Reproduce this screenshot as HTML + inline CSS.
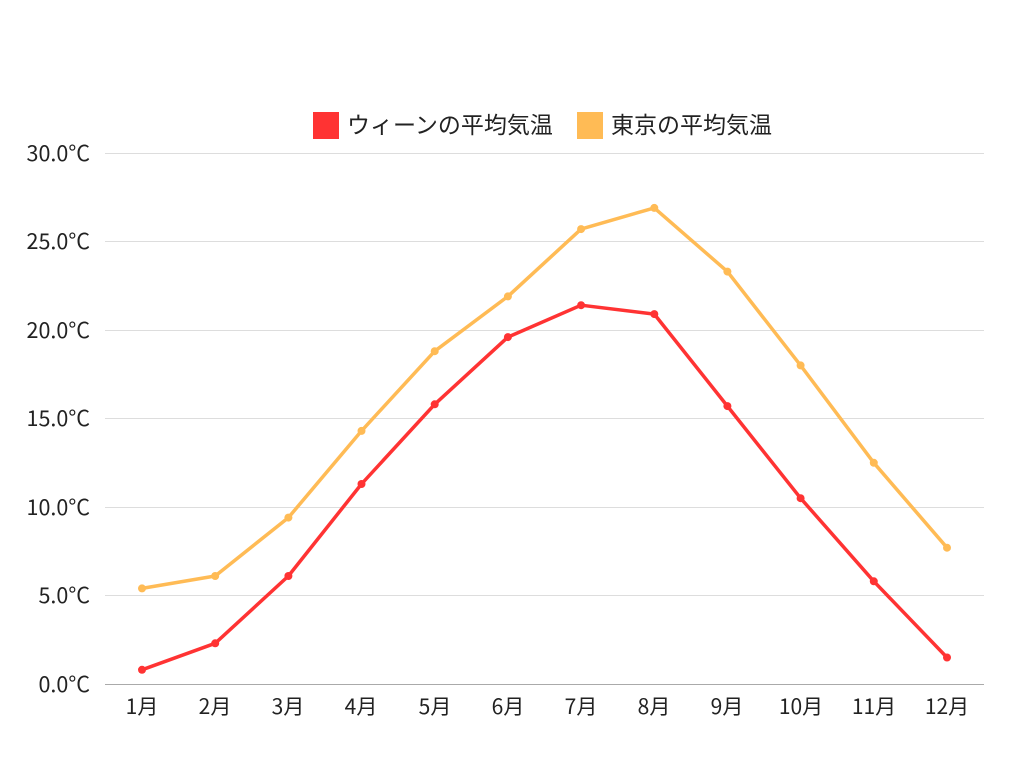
<!DOCTYPE html>
<html><head><meta charset="utf-8"><style>
body{margin:0;background:#fff;}
svg text{font-family:"Noto Sans CJK JP",sans-serif;fill:#222;}
</style></head><body>
<svg width="1024" height="768" xmlns="http://www.w3.org/2000/svg">
<g stroke="#ddd" stroke-width="1">
<line x1="105" x2="984" y1="153.5" y2="153.5"/>
<line x1="105" x2="984" y1="241.5" y2="241.5"/>
<line x1="105" x2="984" y1="330.5" y2="330.5"/>
<line x1="105" x2="984" y1="418.5" y2="418.5"/>
<line x1="105" x2="984" y1="507.5" y2="507.5"/>
<line x1="105" x2="984" y1="595.5" y2="595.5"/>
</g>
<line x1="105" x2="984" y1="684.5" y2="684.5" stroke="#aaa"/>
<g font-size="21.5" text-anchor="end">
<text x="90" y="161">30.0°C</text><text x="90" y="249">25.0°C</text><text x="90" y="338">20.0°C</text>
<text x="90" y="426">15.0°C</text><text x="90" y="515">10.0°C</text><text x="90" y="603">5.0°C</text><text x="90" y="692">0.0°C</text>
</g>
<g font-size="21" text-anchor="middle">
<text x="142" y="714">1月</text><text x="215" y="714">2月</text><text x="288" y="714">3月</text><text x="361" y="714">4月</text>
<text x="435" y="714">5月</text><text x="508" y="714">6月</text><text x="581" y="714">7月</text><text x="654" y="714">8月</text>
<text x="727" y="714">9月</text><text x="801" y="714">10月</text><text x="874" y="714">11月</text><text x="947" y="714">12月</text>
</g>
<rect x="313" y="112" width="26" height="27" fill="#ff3333"/>
<text x="347" y="133" font-size="23">ウィーンの平均気温</text>
<rect x="577" y="112" width="26" height="27" fill="#ffbb55"/>
<text x="611" y="133" font-size="23">東京の平均気温</text>
<polyline fill="none" stroke="#ffbb55" stroke-width="3.5" stroke-linejoin="round" points="142,588.4 215.2,576 288.4,517.6 361.5,430.9 434.7,351.2 507.9,296.4 581.1,229.1 654.3,207.9 727.4,271.6 800.6,365.4 873.8,462.8 947,547.7"/>
<g fill="#ffbb55">
<circle cx="142" cy="588.4" r="4"/><circle cx="215.2" cy="576" r="4"/><circle cx="288.4" cy="517.6" r="4"/><circle cx="361.5" cy="430.9" r="4"/><circle cx="434.7" cy="351.2" r="4"/><circle cx="507.9" cy="296.4" r="4"/><circle cx="581.1" cy="229.1" r="4"/><circle cx="654.3" cy="207.9" r="4"/><circle cx="727.4" cy="271.6" r="4"/><circle cx="800.6" cy="365.4" r="4"/><circle cx="873.8" cy="462.8" r="4"/><circle cx="947" cy="547.7" r="4"/>
</g>
<polyline fill="none" stroke="#ff3333" stroke-width="3.5" stroke-linejoin="round" points="142,669.8 215.2,643.3 288.4,576 361.5,484 434.7,404.3 507.9,337.1 581.1,305.2 654.3,314.1 727.4,406.1 800.6,498.2 873.8,581.3 947,657.5"/>
<g fill="#ff3333">
<circle cx="142" cy="669.8" r="4"/><circle cx="215.2" cy="643.3" r="4"/><circle cx="288.4" cy="576" r="4"/><circle cx="361.5" cy="484" r="4"/><circle cx="434.7" cy="404.3" r="4"/><circle cx="507.9" cy="337.1" r="4"/><circle cx="581.1" cy="305.2" r="4"/><circle cx="654.3" cy="314.1" r="4"/><circle cx="727.4" cy="406.1" r="4"/><circle cx="800.6" cy="498.2" r="4"/><circle cx="873.8" cy="581.3" r="4"/><circle cx="947" cy="657.5" r="4"/>
</g>
</svg>
</body></html>
